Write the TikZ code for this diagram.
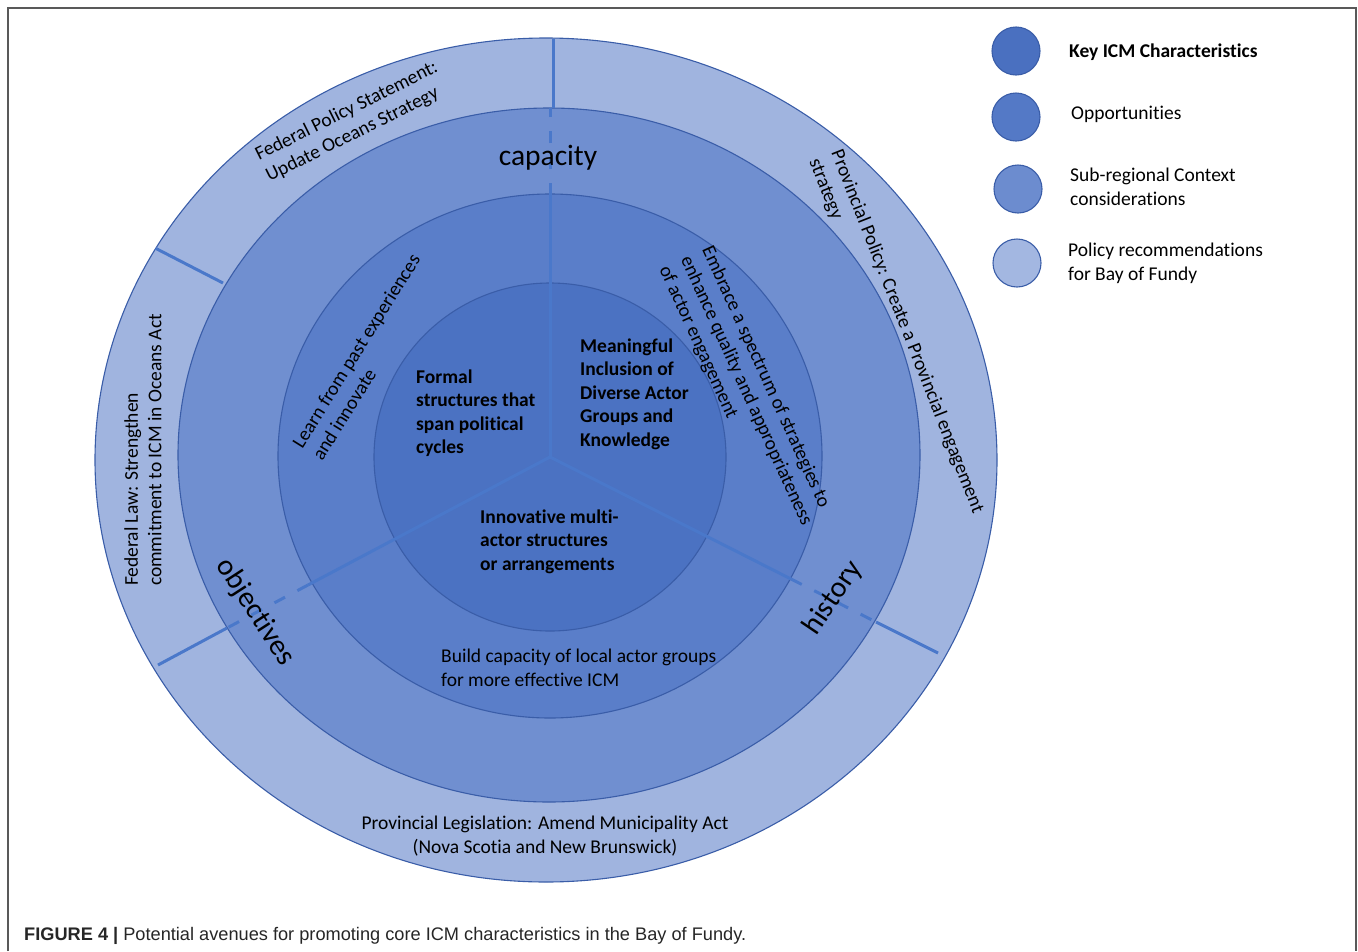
\documentclass[tikz,border=0pt]{standalone}
\usepackage{fontspec}
\setmainfont{Carlito}[Ligatures=NoCommon]
\newfontfamily\capfont{Liberation Sans}
\definecolor{policy}{HTML}{A0B4DF}
\definecolor{context}{HTML}{708FD0}
\definecolor{opport}{HTML}{5A7EC9}
\definecolor{keyicm}{HTML}{4B72C2}
\definecolor{rim}{HTML}{3A5DA8}
\definecolor{divide}{HTML}{4A78CA}
\definecolor{leg1}{HTML}{4A70C0}
\definecolor{leg2}{HTML}{5479C6}
\definecolor{leg3}{HTML}{6C8CCF}
\definecolor{leg4}{HTML}{A3B7E1}

\begin{document}
\begin{tikzpicture}[x=1pt,y=-1pt,
    ring/.style={draw=rim,line width=1.1pt},
    split/.style={draw=divide,line width=3pt},
    gap/.style={split,dash pattern=on 12pt off 14pt},
    lbl/.style={font=\fontsize{19.5}{23.5}\selectfont,align=left,inner sep=0pt},
    key/.style={lbl,font=\fontsize{19.5}{23.5}\selectfont\bfseries},
    big/.style={font=\fontsize{29.5}{32}\selectfont,inner sep=0pt},
    dot/.style={circle,draw=rim,line width=1.1pt,minimum size=48pt,inner sep=0pt}]

  \useasboundingbox (0,0) rectangle (1358,951);
  \draw[black!65,line width=2pt] (8,951) -- (8,8) -- (1356,8) -- (1356,951);

  \filldraw[ring,fill=policy] (546,460) ellipse [x radius=451pt, y radius=422pt];
  \filldraw[ring,fill=context] (549,455) ellipse [x radius=371pt, y radius=347pt];
  \filldraw[ring,fill=opport] (550,456) ellipse [x radius=272pt, y radius=262pt];
  \filldraw[ring,fill=keyicm] (550,457) ellipse [x radius=176pt, y radius=174pt];

  \coordinate (c)  at (550,457);
  \coordinate (n1) at (550,195);
  \coordinate (n2) at (550,108);
  \coordinate (n3) at (553,108);
  \coordinate (n4) at (553,39);
  \coordinate (w1) at (308,585);
  \coordinate (w2) at (227,628);
  \coordinate (w3) at (158,665);
  \coordinate (e1) at (791,579);
  \coordinate (e2) at (876,622);
  \coordinate (e3) at (938,653);
  \coordinate (u1) at (223,283);
  \coordinate (u2) at (155,248);

  \begin{scope}
    \clip (546,460) ellipse [x radius=451pt, y radius=422pt];
    \draw[split] (c) -- (n1);
    \draw[gap] (n1) -- (n2);
    \draw[split] (n3) -- (n4);
    \draw[split] (c) -- (w1);
    \draw[gap] (w1) -- (w2);
    \draw[split] (w2) -- (w3);
    \draw[split] (c) -- (e1);
    \draw[gap] (e1) -- (e2);
    \draw[split] (e2) -- (e3);
    \draw[split] (u1) -- (u2);
  \end{scope}

  \node[big] (capa) at (548,158) {capacity};
  \node[big,rotate=-57] (obj) at (255,612) {objectives};
  \node[big,rotate=56] (hist) at (833,598) {history};

  \node[lbl,rotate=26.5] (fps) at (352,122) {Federal Policy Statement:\\Update Oceans Strategy};
  \node[lbl,rotate=90] (flaw) at (143,450) {Federal Law: Strengthen\\commitment to ICM in Oceans Act};
  \node[lbl,rotate=-68.5] (ppol) at (896,336) {Provincial Policy: Create a Provincial engagement\\strategy};
  \node[lbl,align=center] (pleg) at (545,836) {Provincial Legislation: Amend Municipality Act\\(Nova Scotia and New Brunswick)};

  \node[lbl,rotate=-65.5] (emb) at (746,391) {Embrace a spectrum of strategies to\\enhance quality and appropriateness\\of actor engagement};
  \node[lbl,rotate=58] (lrn) at (366,357) {Learn from past experiences\\and innovate};
  \node[lbl,anchor=west] (bld) at (441,668) {Build capacity of local actor groups\\for more effective ICM};

  \node[key,anchor=west] (fs) at (416,413) {Formal\\structures that\\span political\\cycles};
  \node[key,anchor=west] (mi) at (580,394) {Meaningful\\Inclusion of\\Diverse Actor\\Groups and\\Knowledge};
  \node[key,anchor=west] (im) at (480,541.5) {Innovative multi-\\actor structures\\or arrangements};

  \node[dot,fill=leg1] (d1) at (1016,51) {};
  \node[dot,fill=leg2] (d2) at (1016,117) {};
  \node[dot,fill=leg3] (d3) at (1018,189) {};
  \node[dot,fill=leg4] (d4) at (1017,263) {};
  \node[key,anchor=west] (k1) at (1069,52) {Key ICM Characteristics};
  \node[lbl,anchor=west] (k2) at (1071,114) {Opportunities};
  \node[lbl,anchor=west] (k3) at (1070,187) {Sub-regional Context\\considerations};
  \node[lbl,anchor=west] (k4) at (1068,263.5) {Policy recommendations\\for Bay of Fundy};

  \node[anchor=base west,inner sep=0pt,text=black!85,font=\capfont\fontsize{18.2}{20}\selectfont] (fig) at (24,940) {\textbf{FIGURE 4 |} Potential avenues for promoting core ICM characteristics in the Bay of Fundy.};

\end{tikzpicture}
\end{document}
